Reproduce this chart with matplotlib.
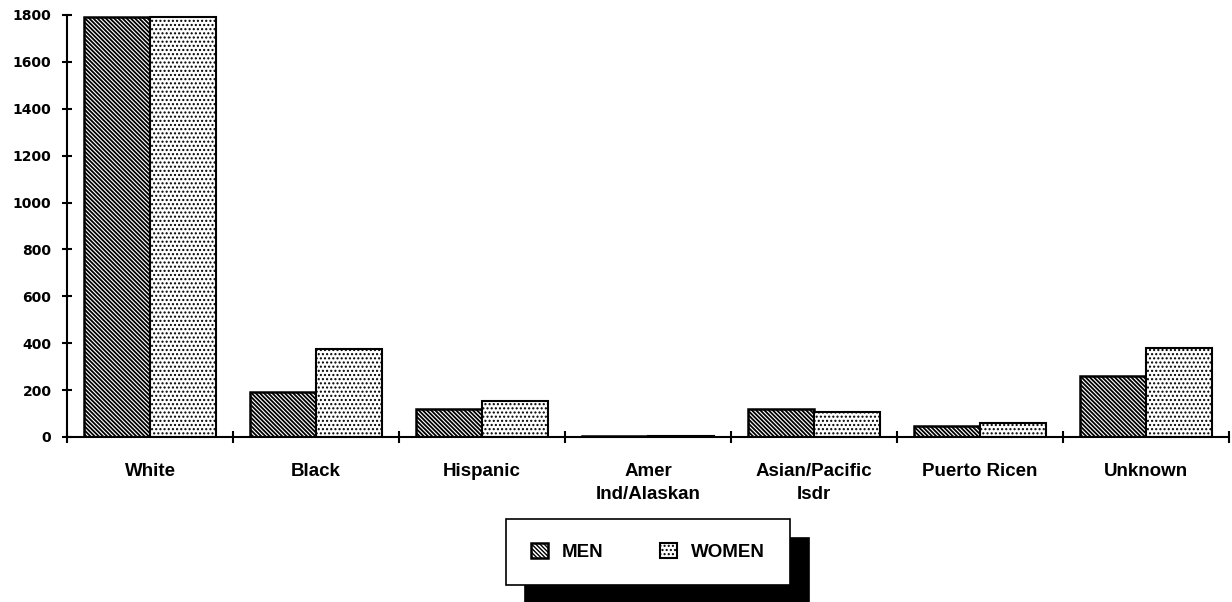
import matplotlib
matplotlib.use("Agg")
import matplotlib.pyplot as plt
import numpy as np

categories = ["White", "Black", "Hispanic", "Amer\nInd/Alaskan",
              "Asian/Pacific\nIsdr", "Puerto Ricen", "Unknown"]
men = [1790, 190, 120, 3, 120, 46, 260]
women = [1790, 374, 152, 3, 108, 60, 380]
yticks = list(range(0, 1801, 200))

fig = plt.figure(figsize=(12.32, 6.02), dpi=100)
ax = fig.add_axes([67/1232, 1-437/602, (1229-67)/1232, (437-15)/602])

x = np.arange(len(categories))
w = 0.4
with plt.rc_context({'hatch.linewidth': 1.3}):
    b1 = ax.bar(x - w/2, men, width=w, facecolor='white', edgecolor='black',
                hatch='\\' * 8, linewidth=1.8, label='MEN')
with plt.rc_context({'hatch.linewidth': 1.0}):
    b2 = ax.bar(x + w/2, women, width=w, facecolor='white', edgecolor='black',
                hatch='....', linewidth=1.5, label='WOMEN')

ax.set_xlim(-0.5, len(categories) - 0.5)
ax.set_ylim(0, 1800)
for s in ['top', 'right']:
    ax.spines[s].set_visible(False)
ax.spines['left'].set_linewidth(1.5)
ax.spines['bottom'].set_linewidth(1.5)

ax.set_yticks(yticks)
ax.set_yticklabels([str(v) for v in yticks], fontfamily='DejaVu Sans',
                   fontweight='bold', fontsize=10)
ax.tick_params(axis='y', direction='inout', length=6.5, width=1.5, pad=8)

ax.set_xticks(x)
ax.set_xticklabels(categories, fontfamily='Liberation Sans', fontweight='bold',
                   fontsize=13.5, linespacing=1.4)
ax.tick_params(axis='x', which='major', length=0, pad=19)
ax.set_xticks(np.arange(-0.5, len(categories), 1.0), minor=True)
ax.tick_params(axis='x', which='minor', direction='inout', length=9, width=1.5)

leg = fig.legend(handles=[b1, b2], labels=['MEN', 'WOMEN'], loc='center',
                 bbox_to_anchor=(648/1232, 1-552/602), ncol=2,
                 prop={'family': 'Liberation Sans', 'weight': 'bold', 'size': 13.5},
                 handlelength=0.9, handleheight=0.8, handletextpad=0.75,
                 columnspacing=3.05, borderpad=1.3, fancybox=False,
                 framealpha=1, edgecolor='black',
                 shadow={'color': 'black', 'alpha': 1, 'ox': 13.7, 'oy': -13.7})
leg.get_frame().set_linewidth(1.2)

fig.savefig("out.png", dpi=100, facecolor='white')
